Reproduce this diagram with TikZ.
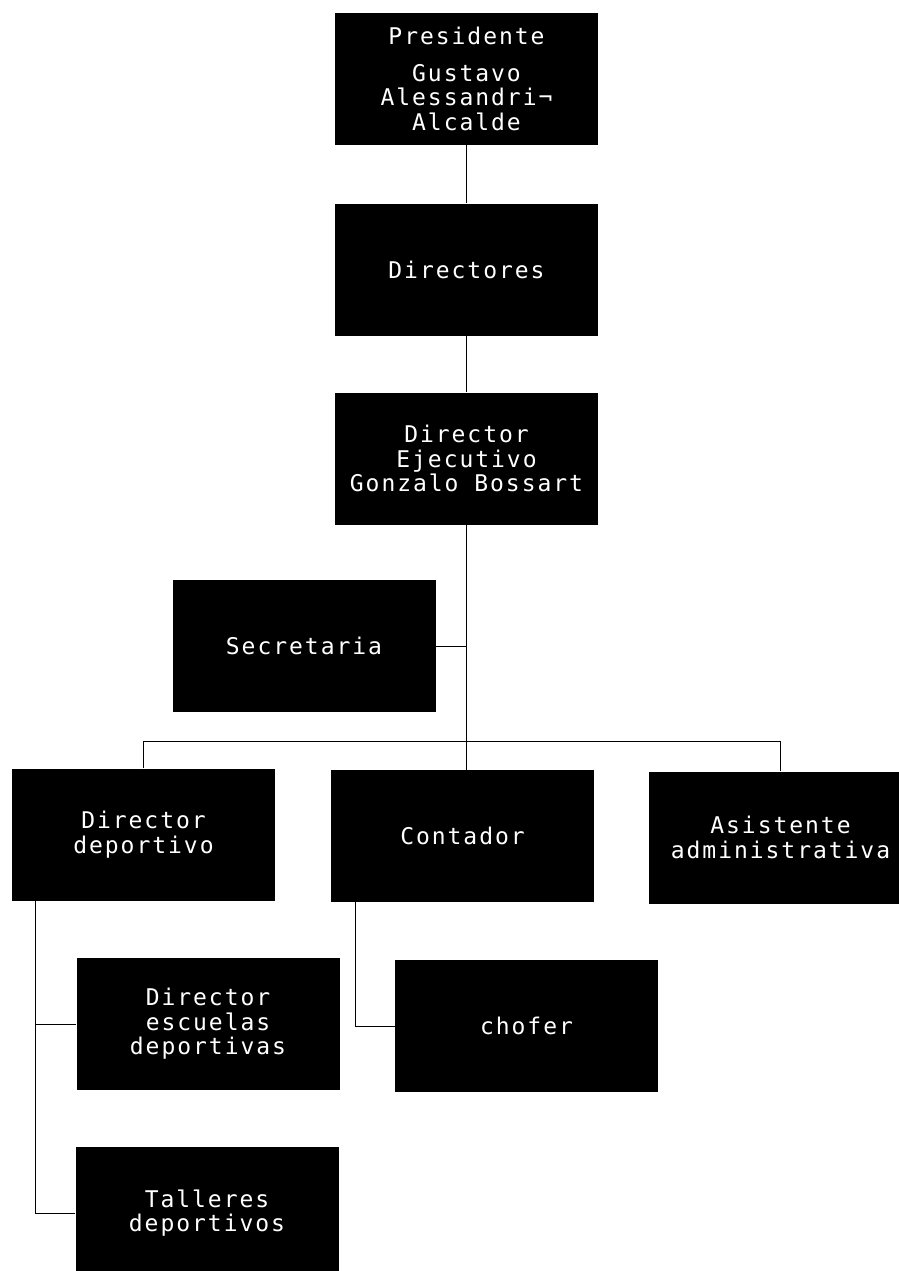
\documentclass[tikz,border=0pt]{standalone}
\usepackage{fontspec}
\newfontfamily\boxfont[LetterSpace=8.5]{DejaVu Sans Mono}
\begin{document}
\begin{tikzpicture}[x=1pt,y=-1pt,
  orgbox/.style={rectangle, fill=black, draw=none, text=white, inner sep=0pt,
    minimum width=263pt, minimum height=132pt, align=center,
    font=\boxfont\fontsize{23}{24.5}\selectfont},
  link/.style={draw=black, line width=0.8pt}]
\useasboundingbox (0,0) rectangle (899,1271);
\begin{scope}
\clip (0,0) rectangle (899,1271);
\node[orgbox] (pres) at (466.5,79) {Presidente\\[12pt]Gustavo\\Alessandri¬\\Alcalde};
\node[orgbox] (dirs) at (466.5,269.5) {Directores};
\node[orgbox] (dex) at (466.5,458.5) {Director\\Ejecutivo\\Gonzalo Bossart};
\node[orgbox] (sec) at (304,646) {Secretaria};
\node[orgbox] (ddep) at (143.5,834.5) {Director\\deportivo};
\node[orgbox] (cont) at (462.5,836) {Contador};
\node[orgbox] (asis) at (780.5,837.5) {Asistente\\administrativa};
\node[orgbox] (desc) at (208,1024) {Director\\escuelas\\deportivas};
\node[orgbox] (chof) at (526.5,1026) {chofer};
\node[orgbox] (tall) at (207,1213) {Talleres\\deportivos};

\coordinate (busL) at (143.5,741);
\coordinate (busR) at (780.5,741);

\draw[link] (pres.south) -- (dirs.north);
\draw[link] (dirs.south) -- (dex.north);
\draw[link] (dex.south) -- (dex.south |- cont.north);
\draw[link] (sec.east) -- (sec.east -| dex.south);
\draw[link] (ddep.north) -- (busL) -- (busR) -- (asis.north);
\draw[link] (ddep.south west) ++(24,0) |- (desc.west);
\draw[link] (ddep.south west) ++(24,0) |- (tall.west);
\draw[link] (cont.south west) ++(25,0) |- (chof.west);
\end{scope}
\end{tikzpicture}
\end{document}
